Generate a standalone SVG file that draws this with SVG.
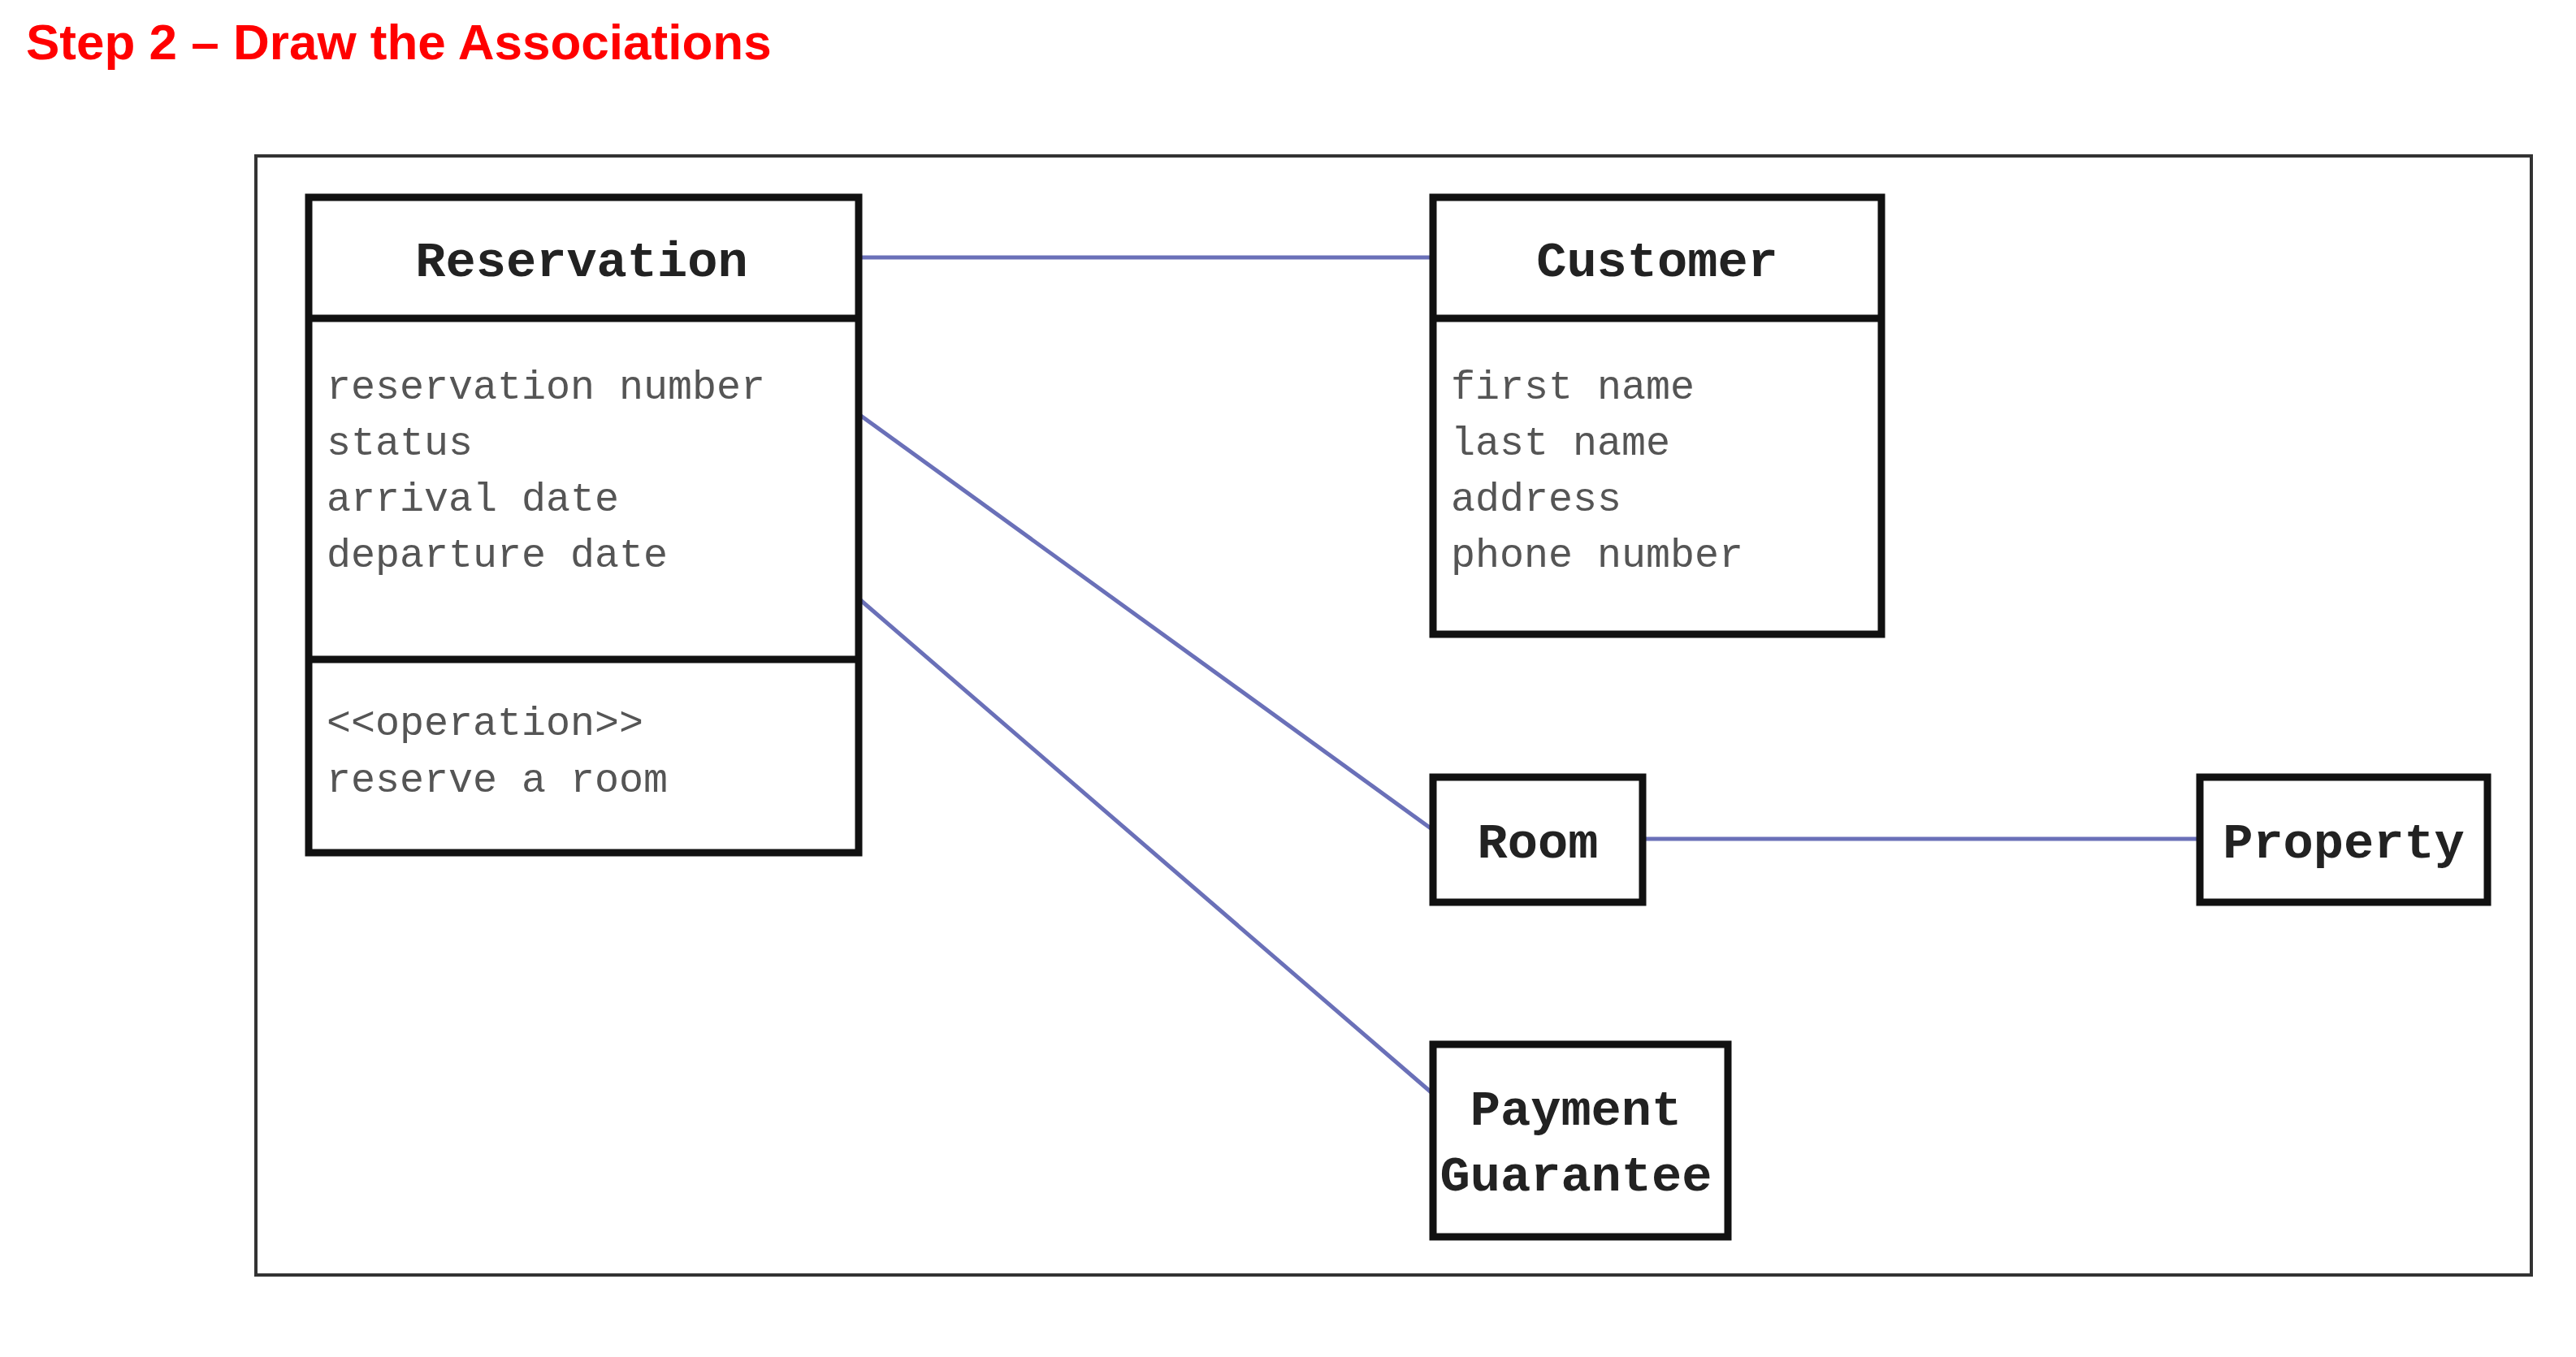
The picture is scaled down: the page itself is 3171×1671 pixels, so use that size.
<svg xmlns="http://www.w3.org/2000/svg" width="3171" height="1671" viewBox="0 0 3171 1671">
<style>
.box{fill:#fff;stroke:#111;stroke-width:9}
.div{stroke:#111;stroke-width:9}
.title{font-family:"Liberation Mono","Courier New",monospace;font-size:62px;font-weight:bold;fill:#222;text-anchor:middle}
.attr{font-family:"Liberation Mono","Courier New",monospace;font-size:50px;fill:#555}
.conn{stroke:#6a70b8;stroke-width:5;fill:none}
</style>
<rect width="3171" height="1671" fill="#fff"/>
<text x="32" y="73" font-family="Liberation Sans, Arial, sans-serif" font-size="62" font-weight="bold" fill="#f00">Step 2 – Draw the Associations</text>
<rect x="315" y="192" width="2801" height="1378" fill="none" stroke="#333" stroke-width="4"/>
<g id="connectors">
<line class="conn" x1="1057" y1="317" x2="1764" y2="317"/>
<line class="conn" x1="1057" y1="510" x2="1764" y2="1022"/>
<line class="conn" x1="1057" y1="737" x2="1764" y2="1347"/>
<line class="conn" x1="2022" y1="1033" x2="2708" y2="1033"/>
</g>
<g id="reservation">
<rect class="box" x="380" y="243" width="677" height="807"/>
<line class="div" x1="380" y1="392" x2="1057" y2="392"/>
<line class="div" x1="380" y1="812" x2="1057" y2="812"/>
<text class="title" x="716" y="340">Reservation</text>
<text class="attr" x="402" y="491">reservation number</text>
<text class="attr" x="402" y="560">status</text>
<text class="attr" x="402" y="629">arrival date</text>
<text class="attr" x="402" y="698">departure date</text>
<text class="attr" x="402" y="905">&lt;&lt;operation&gt;&gt;</text>
<text class="attr" x="402" y="975">reserve a room</text>
</g>
<g id="customer">
<rect class="box" x="1764" y="243" width="552" height="538"/>
<line class="div" x1="1764" y1="392" x2="2316" y2="392"/>
<text class="title" x="2040" y="340">Customer</text>
<text class="attr" x="1786" y="491">first name</text>
<text class="attr" x="1786" y="560">last name</text>
<text class="attr" x="1786" y="629">address</text>
<text class="attr" x="1786" y="698">phone number</text>
</g>
<g id="room">
<rect class="box" x="1764" y="957" width="258" height="154"/>
<text class="title" x="1893" y="1056">Room</text>
</g>
<g id="property">
<rect class="box" x="2708" y="957" width="354" height="154"/>
<text class="title" x="2885" y="1056">Property</text>
</g>
<g id="payment">
<rect class="box" x="1764" y="1286" width="363" height="237"/>
<text class="title" x="1940" y="1385">Payment</text>
<text class="title" x="1940" y="1466">Guarantee</text>
</g>
</svg>
